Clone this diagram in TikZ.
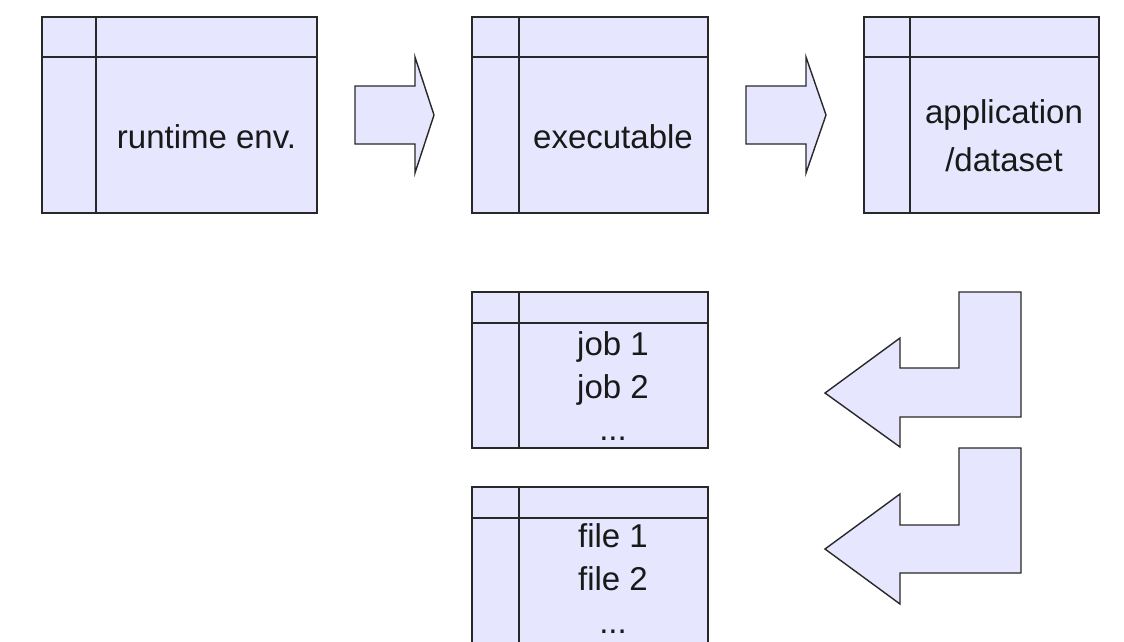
\documentclass[tikz,border=0pt]{standalone}
\usepackage{fontspec}
\setmainfont{Liberation Sans}
\usetikzlibrary{calc}
\definecolor{boxfill}{RGB}{230,230,254}
\definecolor{edge}{RGB}{40,40,40}
\tikzset{
  tbl/.style={draw=edge, fill=boxfill, line width=1.4pt, rectangle, inner sep=0pt, outer sep=0pt, anchor=north west},
  divider/.style={draw=edge, line width=1.4pt},
  blockarrow/.style={draw=edge, fill=boxfill, line width=1.4pt, line join=miter},
  lbl/.style={inner sep=0pt, align=center, text=black!90}
}
\begin{document}
\begin{tikzpicture}[x=1pt, y=-1pt]
\useasboundingbox (0,0) rectangle (1124,641);
\clip (0,0) rectangle (1124,641);
\fill[white] (0,0) rectangle (1124,641);

% top row boxes
\node[tbl, minimum width=275pt, minimum height=196pt] (rt) at (42,17) {};
\draw[divider] ($(rt.north west)+(54,0)$) -- ($(rt.south west)+(54,0)$);
\draw[divider] ($(rt.north west)+(0,40)$) -- ($(rt.north east)+(0,40)$);
\node[lbl, font=\fontsize{33}{42}\selectfont, anchor=base] (rttxt) at (206.5,148) {runtime env.};

\node[tbl, minimum width=236pt, minimum height=196pt] (ex) at (472,17) {};
\draw[divider] ($(ex.north west)+(47,0)$) -- ($(ex.south west)+(47,0)$);
\draw[divider] ($(ex.north west)+(0,40)$) -- ($(ex.north east)+(0,40)$);
\node[lbl, font=\fontsize{33}{42}\selectfont, anchor=base] (extxt) at (613,148) {executable};

\node[tbl, minimum width=235pt, minimum height=196pt] (ap) at (864,17) {};
\draw[divider] ($(ap.north west)+(46,0)$) -- ($(ap.south west)+(46,0)$);
\draw[divider] ($(ap.north west)+(0,40)$) -- ($(ap.north east)+(0,40)$);
\node[lbl, font=\fontsize{33}{48}\selectfont] (aptxt) at (1004,135.5) {application\\/dataset};

% right block arrows
\draw[blockarrow] (355,86) -- (415,86) -- (415,57) -- (434,115) -- (415,173) -- (415,144) -- (355,144) -- cycle;
\draw[blockarrow] (746,86) -- (806,86) -- (806,57) -- (826,115) -- (806,173) -- (806,144) -- (746,144) -- cycle;

% lower boxes
\node[tbl, minimum width=236pt, minimum height=156pt] (jb) at (472,292) {};
\draw[divider] ($(jb.north west)+(47,0)$) -- ($(jb.south west)+(47,0)$);
\draw[divider] ($(jb.north west)+(0,31)$) -- ($(jb.north east)+(0,31)$);
\node[lbl, font=\fontsize{33}{42.5}\selectfont] (jbtxt) at (613,386.5) {job 1\\job 2\\...};

\node[tbl, minimum width=236pt, minimum height=170pt] (fl) at (472,487) {};
\draw[divider] ($(fl.north west)+(47,0)$) -- ($(fl.south west)+(47,0)$);
\draw[divider] ($(fl.north west)+(0,31)$) -- ($(fl.north east)+(0,31)$);
\node[lbl, font=\fontsize{33}{43}\selectfont] (fltxt) at (613,579) {file 1\\file 2\\...};

% L-shaped return arrows
\draw[blockarrow] (959,292) -- (1021,292) -- (1021,417) -- (900,417) -- (900,447) -- (825,393) -- (900,338) -- (900,368) -- (959,368) -- cycle;
\draw[blockarrow] (959,448) -- (1021,448) -- (1021,573) -- (900,573) -- (900,604) -- (825,549) -- (900,494) -- (900,525) -- (959,525) -- cycle;
\end{tikzpicture}
\end{document}
